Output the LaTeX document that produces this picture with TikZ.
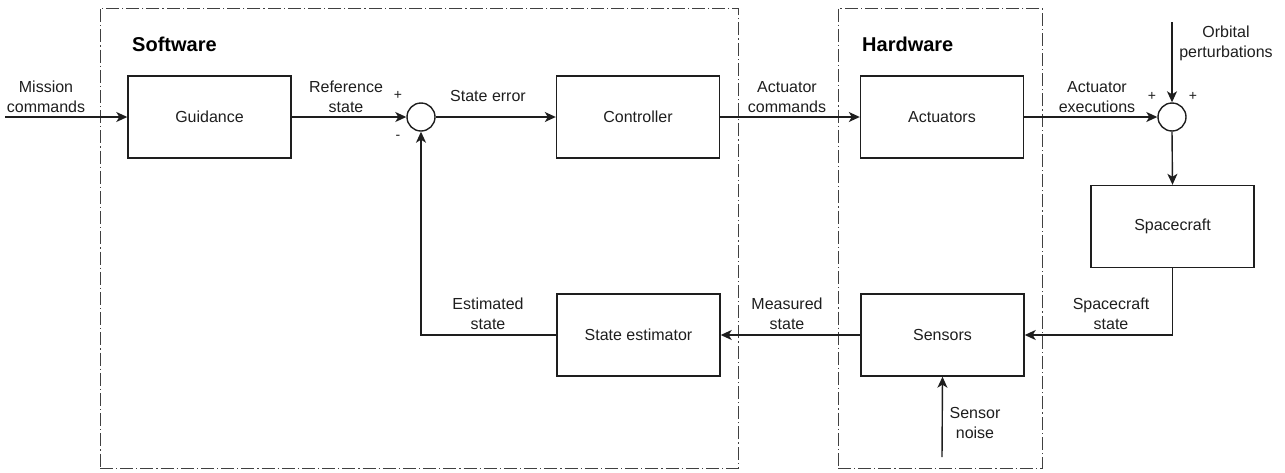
\documentclass[tikz,border=0pt]{standalone}
\usepackage{fontspec}
\setmainfont{Liberation Sans}
\usetikzlibrary{arrows.meta}
\definecolor{ink}{HTML}{1E1E1E}
\tikzset{
  blk/.style={draw=ink, line width=1.4pt, minimum width=163pt, minimum height=82pt,
    inner sep=0pt, font=\fontsize{16}{20}\selectfont, text=ink},
  sumj/.style={draw=ink, line width=1.4pt, circle, minimum size=28pt, inner sep=0pt},
  grp/.style={draw=ink!85, line width=1pt, dash pattern=on 13pt off 3pt on 1.2pt off 3pt,
    inner sep=0pt},
  lbl/.style={align=center, inner sep=0pt, font=\fontsize{16}{20}\selectfont, text=ink},
  sgn/.style={inner sep=0pt, font=\fontsize{14}{14}\selectfont, text=ink},
  ttl/.style={anchor=west, inner sep=0pt, font=\fontsize{20}{24}\selectfont\bfseries, text=black},
  arr/.style={draw=ink, line width=1.4pt, -{Stealth[length=11pt,width=10pt,inset=3pt]}},
}
\begin{document}
\begin{tikzpicture}[x=1pt,y=-1pt]
\useasboundingbox (0,0) rectangle (1285,472);

% group frames
\node[grp, minimum width=638pt, minimum height=460pt] (sw) at (419,238) {};
\node[grp, minimum width=204pt, minimum height=460pt] (hw) at (940,238) {};
\node[ttl] (swt) at (132,44) {Software};
\node[ttl] (hwt) at (862,44) {Hardware};

% blocks
\node[blk] (guid) at (209.5,117) {Guidance};
\node[blk] (ctrl) at (638,117) {Controller};
\node[blk] (act)  at (942,117) {Actuators};
\node[blk] (sc)   at (1172.5,226.5) {Spacecraft};
\node[blk] (sens) at (942.5,335) {Sensors};
\node[blk] (est)  at (638.5,335) {State estimator};

% summing junctions
\node[sumj] (s1) at (421,117) {};
\node[sumj] (s2) at (1172,117) {};

% free ends
\coordinate (min) at (5,117);
\coordinate (orb) at (1172,22);
\coordinate (noi) at (942,457);

% connectors
\draw[arr] (min) -- (guid.west);
\draw[arr] (guid.east) -- (s1.west);
\draw[arr] (s1.east) -- (ctrl.west);
\draw[arr] (ctrl.east) -- (act.west);
\draw[arr] (act.east) -- (s2.west);
\draw[arr] (orb) -- (s2.north);
\draw[arr] (s2.south) -- (sc.north);
\draw[arr] (sc.south) |- (sens.east);
\draw[arr] (noi) -- (sens.south);
\draw[arr] (sens.west) -- (est.east);
\draw[arr] (est.west) -| (s1.south);

% signal labels
\node[lbl] (lmc) at (46,97) {Mission\\commands};
\node[lbl] (lrs) at (346,97) {Reference\\state};
\node[lbl] (lse) at (488,96) {State error};
\node[lbl] (lac) at (787,97) {Actuator\\commands};
\node[lbl] (lae) at (1097,97) {Actuator\\executions};
\node[lbl] (lop) at (1226,43) {Orbital\\perturbations};
\node[lbl] (lss) at (1111,314) {Spacecraft\\state};
\node[lbl] (lms) at (787,314) {Measured\\state};
\node[lbl] (les) at (488,314) {Estimated\\state};
\node[lbl] (lsn) at (975,423) {Sensor\\noise};

% signs
\node[sgn] (p1) at (398,95) {+};
\node[sgn] (m1) at (398,137) {-};
\node[sgn] (p2) at (1152,96) {+};
\node[sgn] (p3) at (1193,96) {+};
\end{tikzpicture}
\end{document}
